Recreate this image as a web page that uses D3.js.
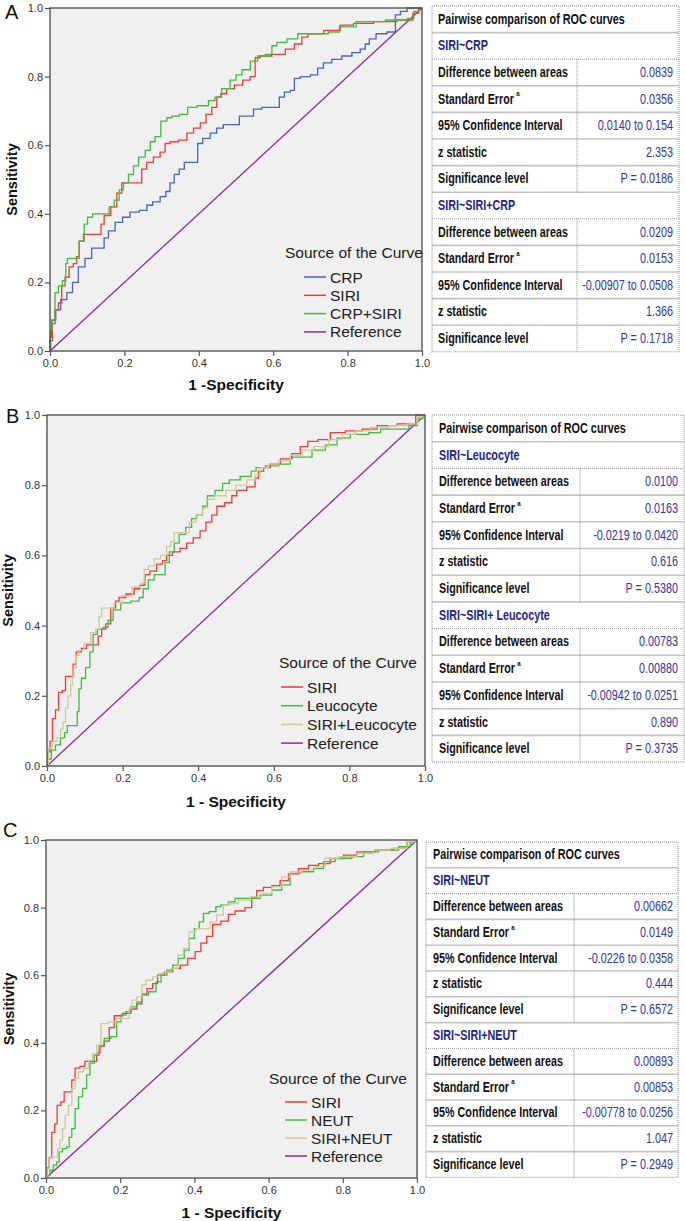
<!DOCTYPE html>
<html><head><meta charset="utf-8">
<script src="https://cdn.jsdelivr.net/npm/d3@7"></script>
<style>body{margin:0;background:#fff}svg{display:block}</style>
</head><body>
<svg id="chart" width="685" height="1221"></svg>
<script>
// ---------------- DATA ----------------
const tickValues = [0, 0.2, 0.4, 0.6, 0.8, 1.0];
const panelLetters = ["A", "B", "C"];
const xTitles = ["1 -Specificity", "1 - Specificity", "1 - Specificity"];
const yTitle = "Sensitivity";
const legendTitle = "Source of the Curve";
const legendA = ["CRP", "SIRI", "CRP+SIRI", "Reference"];
const legendB = ["SIRI", "Leucocyte", "SIRI+Leucocyte", "Reference"];
const legendC = ["SIRI", "NEUT", "SIRI+NEUT", "Reference"];
const referenceLine = [[0, 0], [1, 1]];

const rocA_CRP = [[0,0],[0,0.04],[0.009,0.09],[0.022,0.12],[0.036,0.15],[0.054,0.17],[0.067,0.20],[0.085,0.245],[0.103,0.27],[0.121,0.30],[0.143,0.30],[0.148,0.33],[0.166,0.35],[0.184,0.375],[0.206,0.39],[0.224,0.405],[0.256,0.41],[0.265,0.425],[0.287,0.435],[0.305,0.45],[0.318,0.465],[0.327,0.49],[0.341,0.515],[0.354,0.53],[0.368,0.55],[0.395,0.55],[0.399,0.605],[0.422,0.62],[0.439,0.635],[0.457,0.65],[0.475,0.66],[0.507,0.66],[0.511,0.685],[0.538,0.685],[0.556,0.705],[0.583,0.71],[0.61,0.71],[0.623,0.74],[0.637,0.755],[0.655,0.76],[0.659,0.795],[0.686,0.80],[0.713,0.805],[0.726,0.825],[0.744,0.84],[0.771,0.85],[0.798,0.86],[0.825,0.87],[0.843,0.88],[0.852,0.895],[0.865,0.91],[0.888,0.925],[0.924,0.93],[0.933,0.98],[0.951,0.99],[0.969,1.0],[1,1]];
const rocA_SIRI = [[0,0],[0.004,0.03],[0.009,0.08],[0.018,0.12],[0.027,0.14],[0.036,0.19],[0.045,0.215],[0.058,0.245],[0.067,0.255],[0.076,0.275],[0.081,0.32],[0.099,0.34],[0.135,0.34],[0.139,0.37],[0.152,0.395],[0.175,0.42],[0.184,0.46],[0.202,0.49],[0.242,0.49],[0.251,0.53],[0.269,0.55],[0.287,0.565],[0.305,0.58],[0.314,0.605],[0.332,0.61],[0.359,0.615],[0.377,0.635],[0.395,0.65],[0.413,0.665],[0.426,0.69],[0.444,0.71],[0.453,0.74],[0.466,0.75],[0.484,0.765],[0.507,0.775],[0.529,0.79],[0.547,0.80],[0.556,0.855],[0.574,0.86],[0.619,0.865],[0.646,0.88],[0.668,0.895],[0.686,0.915],[0.70,0.925],[0.771,0.935],[0.789,0.95],[0.843,0.955],[0.897,0.96],[0.969,0.965],[0.982,0.985],[1,1]];
const rocA_CRPSIRI = [[0,0],[0,0.01],[0.002,0.06],[0.009,0.09],[0.018,0.17],[0.027,0.19],[0.04,0.205],[0.045,0.255],[0.049,0.27],[0.072,0.27],[0.085,0.32],[0.099,0.37],[0.103,0.39],[0.126,0.40],[0.152,0.40],[0.166,0.42],[0.179,0.44],[0.193,0.47],[0.202,0.49],[0.22,0.515],[0.229,0.54],[0.247,0.565],[0.265,0.585],[0.274,0.61],[0.291,0.625],[0.305,0.67],[0.323,0.68],[0.332,0.685],[0.363,0.69],[0.377,0.71],[0.413,0.715],[0.439,0.73],[0.448,0.74],[0.475,0.765],[0.493,0.79],[0.507,0.805],[0.525,0.82],[0.552,0.845],[0.565,0.86],[0.592,0.865],[0.601,0.89],[0.619,0.90],[0.655,0.91],[0.677,0.925],[0.735,0.925],[0.762,0.93],[0.794,0.945],[0.852,0.96],[0.951,0.965],[0.969,0.97],[0.987,0.99],[1,1]];

const rocB_SIRI = [[0,0],[0.005,0.04],[0.011,0.07],[0.018,0.135],[0.027,0.16],[0.034,0.21],[0.047,0.215],[0.051,0.255],[0.065,0.255],[0.073,0.29],[0.082,0.325],[0.10,0.335],[0.109,0.345],[0.131,0.345],[0.14,0.37],[0.149,0.39],[0.162,0.405],[0.175,0.45],[0.188,0.47],[0.193,0.48],[0.224,0.49],[0.237,0.505],[0.255,0.515],[0.263,0.545],[0.281,0.555],[0.299,0.575],[0.312,0.585],[0.321,0.60],[0.343,0.61],[0.361,0.62],[0.378,0.635],[0.396,0.65],[0.414,0.67],[0.427,0.695],[0.445,0.715],[0.454,0.74],[0.485,0.75],[0.493,0.77],[0.511,0.785],[0.546,0.795],[0.555,0.82],[0.564,0.84],[0.582,0.85],[0.60,0.86],[0.635,0.875],[0.661,0.89],[0.679,0.91],[0.701,0.925],[0.732,0.93],[0.767,0.95],[0.812,0.955],[0.856,0.96],[0.891,0.97],[0.962,0.975],[0.989,1.0],[1,1]];
const rocB_Leucocyte = [[0,0],[0.007,0.02],[0.016,0.045],[0.029,0.06],[0.042,0.08],[0.051,0.095],[0.056,0.115],[0.078,0.115],[0.082,0.155],[0.087,0.22],[0.095,0.25],[0.109,0.28],[0.118,0.325],[0.126,0.375],[0.14,0.39],[0.157,0.395],[0.166,0.415],[0.184,0.445],[0.206,0.465],[0.237,0.47],[0.25,0.48],[0.259,0.505],[0.277,0.53],[0.29,0.545],[0.308,0.545],[0.317,0.58],[0.33,0.61],[0.343,0.635],[0.356,0.66],[0.378,0.68],[0.387,0.705],[0.405,0.715],[0.418,0.74],[0.431,0.77],[0.458,0.785],[0.471,0.805],[0.493,0.815],[0.529,0.825],[0.551,0.84],[0.555,0.85],[0.60,0.855],[0.626,0.86],[0.661,0.88],[0.688,0.88],[0.714,0.90],[0.759,0.915],[0.776,0.935],[0.829,0.945],[0.874,0.95],[0.891,0.96],[0.944,0.96],[0.971,0.97],[0.989,0.99],[1,1]];
const rocB_SIRILeucocyte = [[0,0],[0.007,0.05],[0.02,0.07],[0.034,0.08],[0.038,0.105],[0.047,0.125],[0.051,0.165],[0.06,0.20],[0.065,0.23],[0.069,0.255],[0.073,0.28],[0.082,0.315],[0.087,0.33],[0.109,0.35],[0.122,0.38],[0.135,0.39],[0.14,0.425],[0.149,0.45],[0.171,0.45],[0.184,0.465],[0.21,0.485],[0.241,0.51],[0.255,0.52],[0.259,0.56],[0.277,0.57],[0.29,0.59],[0.312,0.60],[0.321,0.625],[0.334,0.64],[0.339,0.665],[0.37,0.665],[0.383,0.695],[0.405,0.715],[0.418,0.735],[0.427,0.76],[0.458,0.77],[0.489,0.785],[0.511,0.80],[0.546,0.815],[0.555,0.83],[0.573,0.85],[0.60,0.86],[0.626,0.87],[0.661,0.885],[0.688,0.90],[0.723,0.91],[0.767,0.93],[0.794,0.945],[0.838,0.955],[0.874,0.965],[0.935,0.97],[0.971,0.975],[0.989,0.995],[1,1]];

const rocC_SIRI = [[0,0],[0.006,0.03],[0.011,0.06],[0.02,0.135],[0.027,0.16],[0.033,0.215],[0.047,0.225],[0.051,0.255],[0.065,0.255],[0.074,0.29],[0.083,0.325],[0.10,0.33],[0.11,0.345],[0.132,0.345],[0.141,0.37],[0.15,0.39],[0.164,0.405],[0.177,0.445],[0.191,0.48],[0.222,0.487],[0.236,0.50],[0.254,0.515],[0.263,0.545],[0.281,0.56],[0.294,0.575],[0.308,0.60],[0.33,0.61],[0.353,0.62],[0.371,0.63],[0.393,0.65],[0.411,0.67],[0.424,0.695],[0.442,0.715],[0.456,0.75],[0.487,0.76],[0.496,0.78],[0.523,0.79],[0.55,0.80],[0.559,0.83],[0.577,0.85],[0.595,0.86],[0.622,0.865],[0.64,0.88],[0.667,0.90],[0.694,0.915],[0.721,0.925],[0.748,0.93],[0.784,0.945],[0.82,0.955],[0.856,0.965],[0.919,0.97],[0.955,0.975],[0.991,0.995],[1,1]];
const rocC_NEUT = [[0,0],[0.006,0.008],[0.015,0.023],[0.024,0.038],[0.033,0.047],[0.038,0.077],[0.051,0.087],[0.06,0.092],[0.065,0.12],[0.074,0.146],[0.083,0.205],[0.092,0.24],[0.105,0.265],[0.114,0.305],[0.123,0.34],[0.137,0.363],[0.15,0.393],[0.164,0.413],[0.186,0.418],[0.195,0.462],[0.209,0.482],[0.222,0.492],[0.236,0.506],[0.254,0.521],[0.263,0.541],[0.29,0.551],[0.303,0.58],[0.317,0.60],[0.335,0.615],[0.348,0.63],[0.366,0.65],[0.379,0.674],[0.393,0.709],[0.406,0.738],[0.42,0.758],[0.429,0.783],[0.451,0.788],[0.465,0.803],[0.478,0.808],[0.505,0.817],[0.514,0.827],[0.559,0.827],[0.595,0.837],[0.622,0.852],[0.649,0.867],[0.667,0.901],[0.703,0.906],[0.739,0.916],[0.757,0.936],[0.802,0.946],[0.847,0.951],[0.865,0.965],[0.928,0.97],[0.973,0.98],[0.991,0.995],[1,1]];
const rocC_SIRINEUT = [[0,0],[0.006,0.028],[0.011,0.062],[0.029,0.062],[0.033,0.087],[0.042,0.112],[0.047,0.146],[0.056,0.186],[0.065,0.215],[0.074,0.265],[0.083,0.294],[0.092,0.314],[0.11,0.324],[0.119,0.348],[0.132,0.368],[0.141,0.393],[0.155,0.457],[0.182,0.462],[0.195,0.472],[0.222,0.472],[0.227,0.501],[0.236,0.526],[0.254,0.536],[0.263,0.571],[0.276,0.585],[0.299,0.595],[0.308,0.605],[0.326,0.61],[0.348,0.62],[0.362,0.659],[0.379,0.679],[0.393,0.729],[0.415,0.738],[0.433,0.738],[0.451,0.758],[0.469,0.778],[0.487,0.808],[0.505,0.812],[0.532,0.822],[0.568,0.832],[0.595,0.842],[0.622,0.862],[0.649,0.891],[0.667,0.906],[0.712,0.911],[0.739,0.921],[0.766,0.946],[0.811,0.951],[0.865,0.96],[0.901,0.97],[0.955,0.975],[0.991,0.995],[1,1]];

const tableTitle = "Pairwise comparison of ROC curves";
const rowLabels = ["Difference between areas", "Standard Error", "95% Confidence Interval", "z statistic", "Significance level"];
const sectionsA = ["SIRI~CRP", "SIRI~SIRI+CRP"];
const valuesA1 = ["0.0839", "0.0356", "0.0140 to 0.154", "2.353", "P = 0.0186"];
const valuesA2 = ["0.0209", "0.0153", "-0.00907 to 0.0508", "1.366", "P = 0.1718"];
const sectionsB = ["SIRI~Leucocyte", "SIRI~SIRI+ Leucocyte"];
const valuesB1 = ["0.0100", "0.0163", "-0.0219 to 0.0420", "0.616", "P = 0.5380"];
const valuesB2 = ["0.00783", "0.00880", "-0.00942 to 0.0251", "0.890", "P = 0.3735"];
const sectionsC = ["SIRI~NEUT", "SIRI~SIRI+NEUT"];
const valuesC1 = ["0.00662", "0.0149", "-0.0226 to 0.0358", "0.444", "P = 0.6572"];
const valuesC2 = ["0.00893", "0.00853", "-0.00778 to 0.0256", "1.047", "P = 0.2949"];

// ---------------- STYLE / LAYOUT ----------------
const FONT = "'Liberation Sans', Arial, sans-serif";
const COL = {blue: "#4a63c6", red: "#f23a3a", green: "#3cbf3c", tan: "#d4c899", purple: "#8e2d8e"};
const svg = d3.select("#chart");
svg.append("rect").attr("width", 685).attr("height", 1221).attr("fill", "#fff");

function measure(str, size, weight) {
  const t = svg.append("text").attr("font-family", FONT).attr("font-size", size).attr("font-weight", weight).text(str);
  const w = t.node().getComputedTextLength();
  t.remove();
  return w;
}
const sxLabel = 130 / measure("Difference between areas", 14, "bold");
const sxHead = 187 / measure(tableTitle, 14, "bold");
const sxNum = 91 / measure("-0.00907 to 0.0508", 14, "normal");

function drawPanel(cfg) {
  const g = svg.append("g");
  const x = d3.scaleLinear().domain([0, 1]).range([cfg.left, cfg.right]);
  const y = d3.scaleLinear().domain([0, 1]).range([cfg.bottom, cfg.top]);
  g.append("rect").attr("x", cfg.left).attr("y", cfg.top)
    .attr("width", cfg.right - cfg.left).attr("height", cfg.bottom - cfg.top)
    .attr("fill", "#f0f0f0");
  const fmt = d3.format(".1f");
  const ax = g.append("g").attr("transform", `translate(0,${cfg.bottom})`)
    .call(d3.axisBottom(x).tickValues(tickValues).tickSize(5).tickPadding(3).tickFormat(fmt));
  const ay = g.append("g").attr("transform", `translate(${cfg.left},0)`)
    .call(d3.axisLeft(y).tickValues(tickValues).tickSize(5).tickPadding(2).tickFormat(fmt));
  [ax, ay].forEach(a => {
    a.select(".domain").remove();
    a.selectAll("line").attr("stroke", "#555").attr("stroke-width", 1.2);
    a.selectAll("text").attr("font-family", FONT).attr("font-size", 11).attr("fill", "#333");
  });
  const line = d3.line().x(d => x(d[0])).y(d => y(d[1]));
  const stepLine = d3.line().x(d => x(d[0])).y(d => y(d[1])).curve(d3.curveStep);
  g.append("path").attr("d", line(referenceLine)).attr("fill", "none")
    .attr("stroke", COL.purple).attr("stroke-width", 1.3);
  cfg.series.forEach((s, i) => {
    g.append("path").attr("d", stepLine(s)).attr("fill", "none")
      .attr("stroke", cfg.colors[i]).attr("stroke-width", 1.3);
  });
  g.append("rect").attr("x", cfg.left).attr("y", cfg.top)
    .attr("width", cfg.right - cfg.left).attr("height", cfg.bottom - cfg.top)
    .attr("fill", "none").attr("stroke", "#555").attr("stroke-width", 1.4);
  // titles
  g.append("text").attr("x", (cfg.left + cfg.right) / 2).attr("y", cfg.xTitleY)
    .attr("text-anchor", "middle").attr("dominant-baseline", "central")
    .attr("font-family", FONT).attr("font-weight", "bold").attr("font-size", 15.5)
    .attr("fill", "#111").text(cfg.xTitle);
  g.append("text").attr("transform", `translate(${cfg.yTitleX},${(cfg.top + cfg.bottom) / 2}) rotate(-90)`)
    .attr("text-anchor", "middle").attr("dominant-baseline", "central")
    .attr("font-family", FONT).attr("font-weight", "bold").attr("font-size", 14.5)
    .attr("fill", "#111").text(yTitle);
  g.append("text").attr("x", cfg.letterX).attr("y", cfg.letterY)
    .attr("font-family", FONT).attr("font-size", 20)
    .attr("fill", "#111").text(cfg.letter);
  // legend
  g.append("text").attr("x", cfg.legTitleX).attr("y", cfg.legTitleY)
    .attr("dominant-baseline", "central").attr("font-family", FONT).attr("font-size", 15.5)
    .attr("fill", "#222").text(legendTitle);
  const legColors = cfg.colors.concat([COL.purple]);
  cfg.legend.forEach((name, i) => {
    const yy = cfg.legY0 + i * cfg.legDy;
    g.append("line").attr("x1", cfg.legLineX).attr("x2", cfg.legLineX + 22)
      .attr("y1", yy).attr("y2", yy).attr("stroke", legColors[i]).attr("stroke-width", 1.5);
    g.append("text").attr("x", cfg.legLineX + 26).attr("y", yy)
      .attr("dominant-baseline", "central").attr("font-family", FONT).attr("font-size", 15.5)
      .attr("fill", "#222").text(name);
  });
}

function ctext(parent, str, x, y, size, weight, fill, anchor, sx) {
  return parent.append("text")
    .attr("transform", `translate(${x},${y}) scale(${sx},1)`)
    .attr("text-anchor", anchor).attr("dominant-baseline", "central")
    .attr("font-family", FONT).attr("font-size", size).attr("font-weight", weight)
    .attr("fill", fill).text(str);
}

function drawTable(t) {
  const g = svg.append("g");
  const n = 13;
  const bottom = t.top + n * t.rowH;
  for (let i = 1; i < n; i++) {
    const yy = t.top + i * t.rowH;
    const dotted = (i === 2 || i === 8);
    g.append("line").attr("x1", t.left).attr("x2", t.right).attr("y1", yy).attr("y2", yy)
      .attr("stroke", dotted ? "#9a9a9a" : "#c4c4c4").attr("stroke-width", dotted ? 1 : 1.6)
      .attr("stroke-dasharray", dotted ? "1,1" : null);
  }
  g.append("rect").attr("x", t.left).attr("y", t.top).attr("width", t.right - t.left)
    .attr("height", bottom - t.top).attr("fill", "none").attr("stroke", "#8a8a8a")
    .attr("stroke-width", 1).attr("stroke-dasharray", "1,1");
  [[2, 7], [8, 13]].forEach(([a, b]) => {
    g.append("line").attr("x1", t.divX).attr("x2", t.divX)
      .attr("y1", t.top + a * t.rowH).attr("y2", t.top + b * t.rowH)
      .attr("stroke", "#8a8a8a").attr("stroke-width", 1).attr("stroke-dasharray", "1,1");
  });
  const cy = i => t.top + (i + 0.5) * t.rowH;
  ctext(g, tableTitle, t.textX, cy(0), 14, "bold", "#111", "start", sxHead);
  [0, 1].forEach(s => {
    const base = s === 0 ? 1 : 7;
    const vals = s === 0 ? t.v1 : t.v2;
    ctext(g, t.sections[s], t.textX, cy(base), 14, "bold", "#23238e", "start", sxLabel);
    rowLabels.forEach((lab, k) => {
      const tx = ctext(g, lab, t.textX, cy(base + 1 + k), 14, "bold", "#111", "start", sxLabel);
      if (k === 1) tx.append("tspan").attr("font-size", 8).attr("dy", -5).attr("dx", 3).text("a");
      ctext(g, vals[k], t.numX, cy(base + 1 + k), 14, "normal", "#3535a6", "end", sxNum);
    });
  });
}

drawPanel({left: 50, right: 422, top: 8, bottom: 351, xTitleY: 384, yTitleX: 12,
  letter: panelLetters[0], letterX: 5, letterY: 19, xTitle: xTitles[0],
  series: [rocA_CRP, rocA_SIRI, rocA_CRPSIRI], colors: [COL.blue, COL.red, COL.green],
  legend: legendA, legTitleX: 285, legTitleY: 252, legLineX: 304, legY0: 277, legDy: 18.3});
drawPanel({left: 47, right: 425, top: 415, bottom: 766, xTitleY: 801, yTitleX: 8,
  letter: panelLetters[1], letterX: 6, letterY: 423, xTitle: xTitles[1],
  series: [rocB_SIRI, rocB_Leucocyte, rocB_SIRILeucocyte], colors: [COL.red, COL.green, COL.tan],
  legend: legendB, legTitleX: 279, legTitleY: 662, legLineX: 281, legY0: 687, legDy: 18.7});
drawPanel({left: 46, right: 417, top: 840, bottom: 1178, xTitleY: 1212, yTitleX: 9,
  letter: panelLetters[2], letterX: 3, letterY: 837, xTitle: xTitles[2],
  series: [rocC_SIRI, rocC_NEUT, rocC_SIRINEUT], colors: [COL.red, COL.green, COL.tan],
  legend: legendC, legTitleX: 269, legTitleY: 1078, legLineX: 285, legY0: 1102, legDy: 18});

drawTable({left: 432, right: 679, top: 6, rowH: 26.6, divX: 577, textX: 438, numX: 673,
  sections: sectionsA, v1: valuesA1, v2: valuesA2});
drawTable({left: 432, right: 684, top: 415, rowH: 26.7, divX: 580, textX: 439, numX: 678,
  sections: sectionsB, v1: valuesB1, v2: valuesB2});
drawTable({left: 426, right: 678, top: 842, rowH: 25.8, divX: 574, textX: 433, numX: 673,
  sections: sectionsC, v1: valuesC1, v2: valuesC2});
</script>
</body></html>
